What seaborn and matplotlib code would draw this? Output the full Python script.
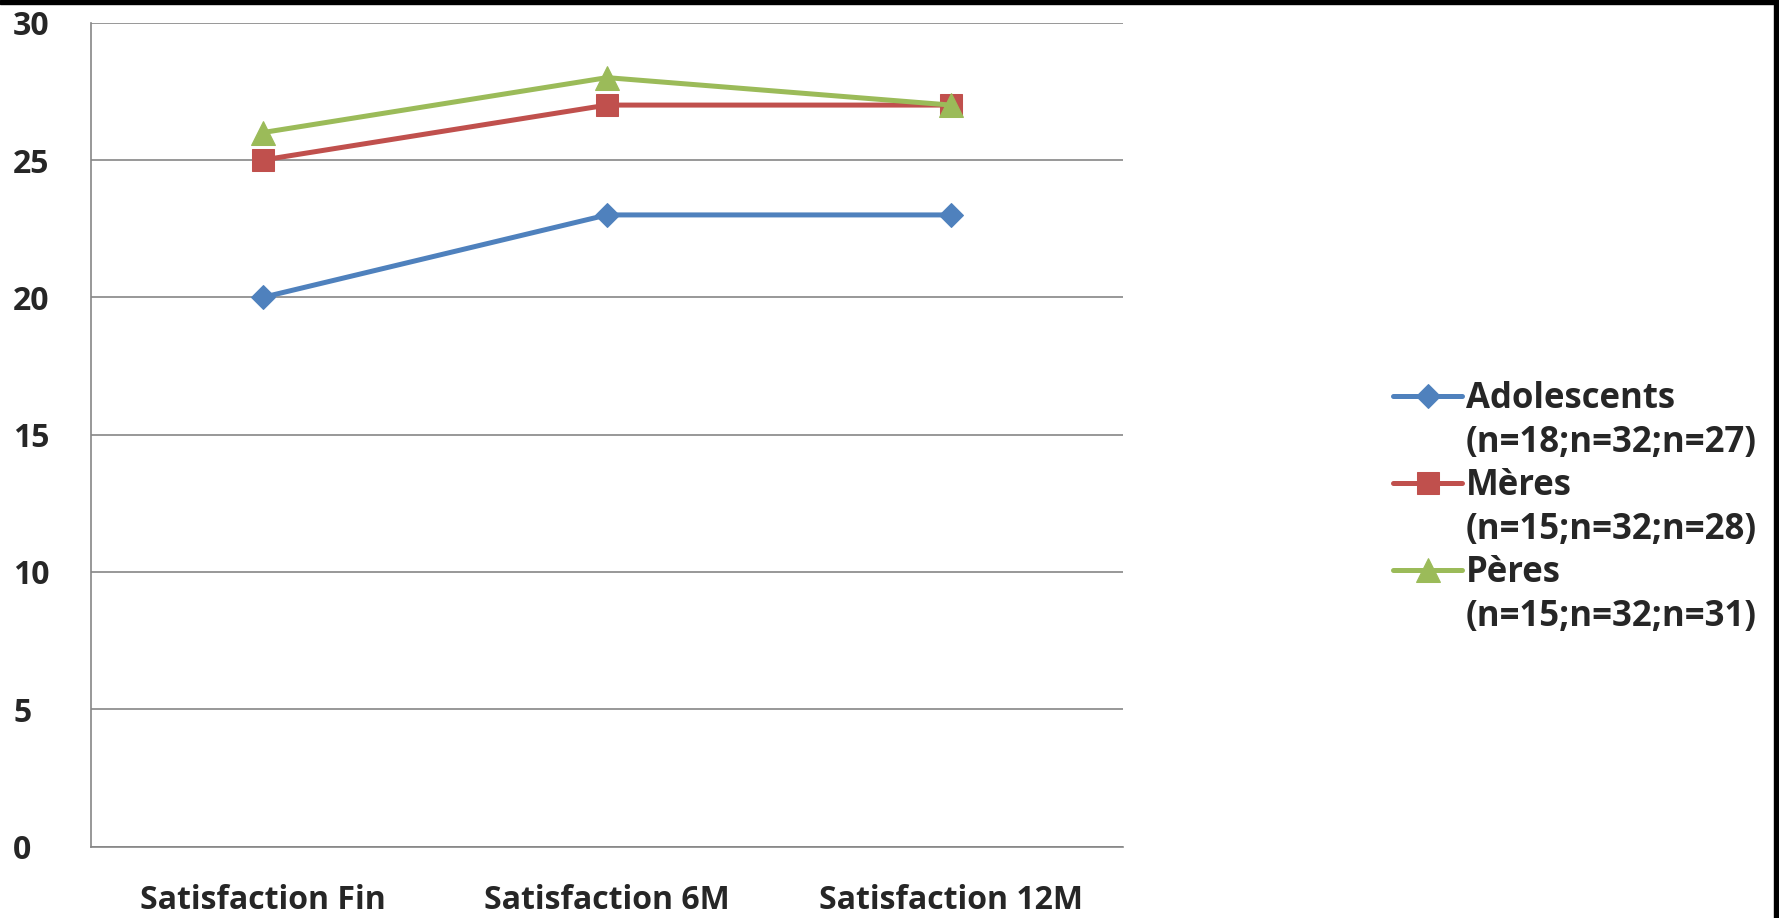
import matplotlib
matplotlib.use("Agg")
import matplotlib.pyplot as plt
import seaborn as sns
import pandas as pd
from matplotlib.patches import Rectangle
from matplotlib.lines import Line2D

categories = ["Satisfaction Fin", "Satisfaction 6M", "Satisfaction 12M"]
adolescents = [20, 23, 23]
meres = [25, 27, 27]
peres = [26, 28, 27]
series_names = ["Adolescents", "Mères", "Pères"]
series_counts = ["(n=18;n=32;n=27)", "(n=15;n=32;n=28)", "(n=15;n=32;n=31)"]
y_ticks = [0, 5, 10, 15, 20, 25, 30]

colors = ["#4F81BD", "#C0504D", "#9BBB59"]
markers = ["D", "s", "^"]
msizes = [12, 16, 17]

sns.set_style("white")
plt.rcParams['font.family'] = ['Open Sans', 'DejaVu Sans']

rows = []
for name, vals in zip(series_names, [adolescents, meres, peres]):
    for c, v in zip(categories, vals):
        rows.append({"cat": c, "value": v, "group": name})
df = pd.DataFrame(rows)

fig = plt.figure(figsize=(17.79, 9.18), dpi=100)
ax = fig.add_axes([91/1779, 1 - 846.5/918, (1123-91)/1779, (846.5-22.7)/918])

for name, col, mk, ms in zip(series_names, colors, markers, msizes):
    sub = df[df["group"] == name]
    sns.lineplot(data=sub, x="cat", y="value", ax=ax, color=col, marker=mk,
                 markersize=ms, markeredgecolor=col, linewidth=3.6, label=name,
                 sort=False)

ax.set_xlim(-0.5, 2.5)
ax.set_ylim(0, 30)
ax.set_yticks(y_ticks)
ax.set_yticklabels([str(t) for t in y_ticks], fontsize=23, fontweight='bold')
ax.set_xticks(range(len(categories)))
ax.set_xticklabels(categories, fontsize=23, fontweight='bold')
ax.set_xticks([-0.5, 0.5, 1.5, 2.5], minor=True)
ax.tick_params(axis='x', which='major', length=0, pad=27)
ax.tick_params(axis='x', which='minor', length=12, width=1.2, color='#868686', direction='out')
ax.tick_params(axis='y', which='major', length=11, width=1.2, color='#868686', direction='out', pad=45)
for lbl in ax.get_yticklabels():
    lbl.set_horizontalalignment('left')
ax.set_xlabel("")
ax.set_ylabel("")
ax.grid(axis='y', color='#868686', linewidth=1.2)
ax.grid(axis='x', visible=False)
ax.set_axisbelow(True)
for side in ['top', 'right']:
    ax.spines[side].set_visible(False)
for side in ['left', 'bottom']:
    ax.spines[side].set_color('#868686')
    ax.spines[side].set_linewidth(1.2)

if ax.legend_:
    ax.legend_.remove()
handles, _ = ax.get_legend_handles_labels()
blank = Line2D([], [], linestyle='none')
leg_handles, leg_labels = [], []
for h, name, cnt in zip(handles, series_names, series_counts):
    leg_handles += [h, blank]
    leg_labels += [name, cnt]
leg = fig.legend(leg_handles, leg_labels, loc='center left', bbox_to_anchor=(1393/1779, 1 - 508/918),
                 frameon=False, prop={'size': 25, 'weight': 'bold'}, handlelength=2.0,
                 handletextpad=0.1, labelspacing=0.22, borderpad=0, borderaxespad=0)

# black frame strips (top and right) as in the reference
fig.patches.append(Rectangle((0, 1 - 4/918), 1, 4/918, transform=fig.transFigure, color='black', zorder=10))
fig.patches.append(Rectangle((1 - 5/1779, 0), 5/1779, 1, transform=fig.transFigure, color='black', zorder=10))

fig.savefig("out.png", dpi=100)
